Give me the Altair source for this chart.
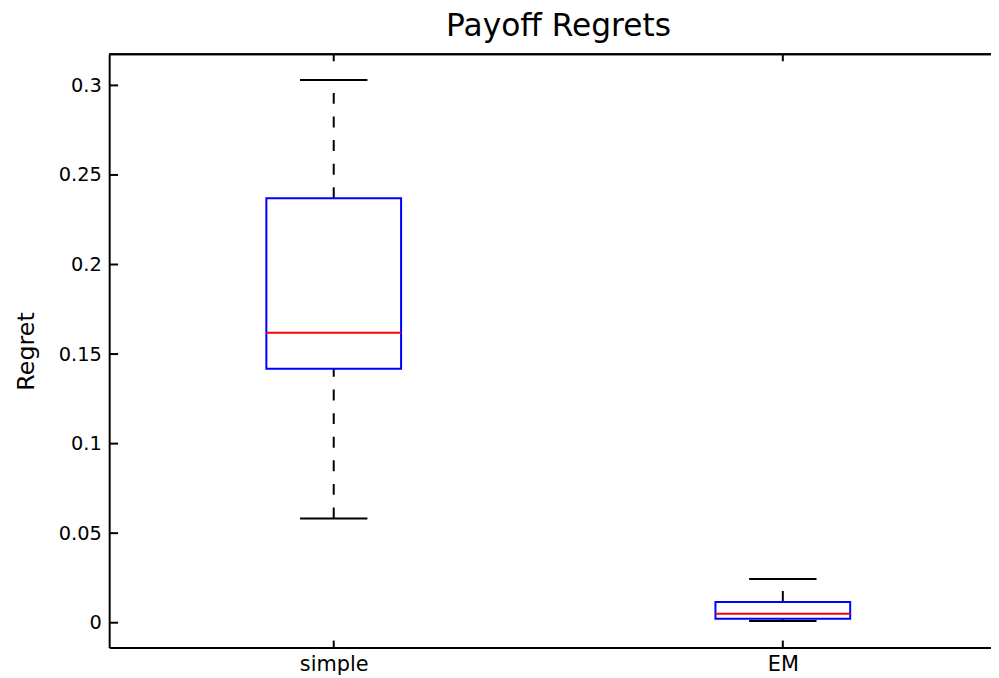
import altair as alt
import pandas as pd

# ---- data ----
categories = ["simple", "EM"]
positions = [1, 2]
lower_whisker = [0.0582, 0.0009]
q1 = [0.1418, 0.0022]
medians = [0.1619, 0.0050]
q3 = [0.2370, 0.0116]
upper_whisker = [0.3030, 0.0244]
y_ticks = [0, 0.05, 0.1, 0.15, 0.2, 0.25, 0.3]

W = 889
H = 598
PX_PER_UNIT = 452.75
FONT = "DejaVu Sans"

boxes = pd.DataFrame({"pos": positions, "cat": categories, "q1": q1,
                      "median": medians, "q3": q3})
whiskers = pd.DataFrame({"pos": positions + positions,
                         "start": q3 + lower_whisker,
                         "end": upper_whisker + q1})
caps = pd.DataFrame({"pos": positions + positions,
                     "val": upper_whisker + lower_whisker})
yt = pd.DataFrame({"t": y_ticks})
xt = pd.DataFrame({"pos": positions})

xscale = alt.Scale(domain=[0.5, 0.5 + W / PX_PER_UNIT], nice=False, zero=False)
yscale = alt.Scale(domain=[-0.013846, 0.31734], nice=False, zero=False)

label_expr = " : ".join(
    f"datum.value == {p} ? '{c}'" for p, c in zip(positions, categories)
) + " : ''"

xaxis = alt.Axis(values=positions, labelExpr=label_expr, ticks=False, grid=False,
                 domainColor="black", domainWidth=2, labelFont=FONT,
                 labelFontSize=21, labelColor="black", labelPadding=23,
                 labelBaseline="alphabetic", title=None)
yaxis = alt.Axis(values=y_ticks, format="~g", ticks=False, grid=False,
                 domainColor="black", domainWidth=2, labelFont=FONT,
                 labelFontSize=19.5, labelColor="black", labelPadding=8,
                 title="Regret", titleFont=FONT, titleFontSize=24,
                 titleFontWeight="normal", titleColor="black",
                 titleX=-76, titleY=H / 2, titleAngle=270,
                 titleBaseline="alphabetic", titleAlign="center")

X = lambda f: alt.X(f, scale=xscale, axis=xaxis)
Y = lambda f: alt.Y(f, scale=yscale, axis=yaxis)

whisk = alt.Chart(whiskers).mark_rule(color="black", strokeWidth=2,
                                      strokeDash=[11, 12.8]).encode(
    x=X("pos:Q"), y=Y("start:Q"), y2="end:Q")

cap = alt.Chart(caps).transform_calculate(
    cl="datum.pos - 0.075", cr="datum.pos + 0.075"
).mark_rule(color="black", strokeWidth=2).encode(
    x=X("cl:Q"), x2="cr:Q", y=Y("val:Q"))

box = alt.Chart(boxes).transform_calculate(
    left="datum.pos - 0.15", right="datum.pos + 0.15"
).mark_rect(stroke="#0000ff", strokeWidth=2, fillOpacity=0).encode(
    x=X("left:Q"), x2="right:Q", y=Y("q1:Q"), y2="q3:Q")

med = alt.Chart(boxes).transform_calculate(
    left="datum.pos - 0.15", right="datum.pos + 0.15"
).mark_rule(color="#ff0000", strokeWidth=2).encode(
    x=X("left:Q"), x2="right:Q", y=Y("median:Q"))

ytick_marks = alt.Chart(yt).mark_rule(color="black", strokeWidth=2).encode(
    x=alt.value(0), x2=alt.value(9), y=Y("t:Q"))

xtick_bottom = alt.Chart(xt).mark_rule(color="black", strokeWidth=2).encode(
    x=X("pos:Q"), y=alt.value(H - 7), y2=alt.value(H))
xtick_top = alt.Chart(xt).mark_rule(color="black", strokeWidth=2).encode(
    x=X("pos:Q"), y=alt.value(0), y2=alt.value(7))

top_border = alt.Chart(xt).mark_rule(color="black", strokeWidth=2).encode(
    x=alt.value(0), x2=alt.value(W), y=alt.value(0))

chart = alt.layer(
    whisk, cap, box, med, ytick_marks, xtick_bottom, xtick_top, top_border
).properties(
    width=W, height=H,
    title=alt.TitleParams("Payoff Regrets", font=FONT, fontSize=31.5,
                          fontWeight="normal", color="black",
                          baseline="alphabetic", offset=15, dx=8.5, dy=29,
                          anchor="middle"),
    autosize=alt.AutoSizeParams(type="none"),
    padding={"left": 102, "top": 44, "right": 0, "bottom": 26},
    background="white",
).configure_view(stroke=None)

chart.save("out.html", embed_options={"renderer": "svg", "actions": False})
